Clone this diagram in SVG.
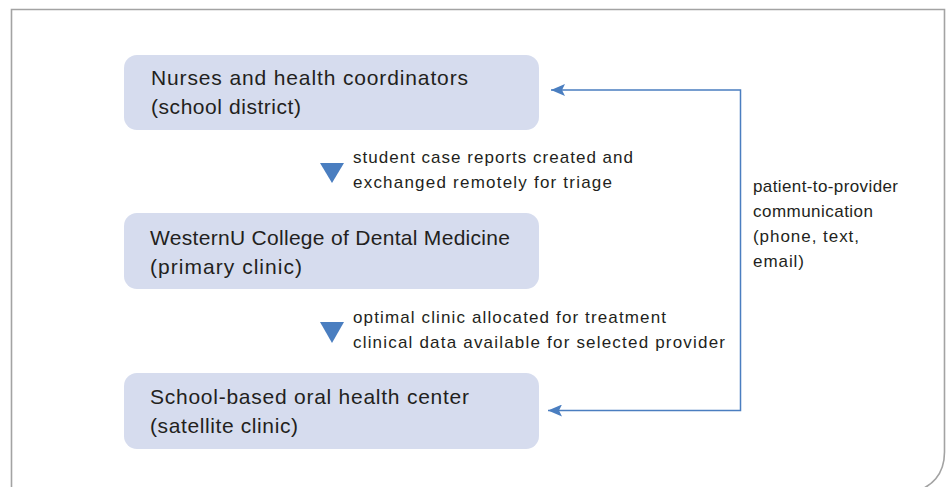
<svg xmlns="http://www.w3.org/2000/svg" width="948" height="487" viewBox="0 0 948 487">
  <defs>
    <marker id="arrowhead" viewBox="0 0 14 12" refX="14" refY="6" markerWidth="14" markerHeight="12" markerUnits="userSpaceOnUse" orient="auto-start-reverse">
      <path d="M14,6 L0,0 L3,6 L0,12 Z" fill="#4a7ec0"/>
    </marker>
    <style>
      .frame { fill: #ffffff; stroke: #a3a3a3; stroke-width: 1.6; }
      .box { fill: #d6dcee; }
      .title { font-family: "Liberation Sans", Arial, sans-serif; font-size: 21px; fill: #231f20; }
      .note { font-family: "Liberation Sans", Arial, sans-serif; font-size: 17px; fill: #231f20; }
      .link { fill: none; stroke: #4a7ec0; stroke-width: 1.5; }
      .tri { fill: #4a7ec0; }
    </style>
  </defs>

  <rect width="948" height="487" fill="#ffffff"/>
  <!-- outer panel with rounded lower-right corner -->
  <path class="frame" d="M11.5,492 V9.5 H944.5 V452 C944.5,474 932,488 912,492"/>

  <g id="node-nurses">
    <rect class="box" x="124" y="55" width="415" height="75" rx="13"/>
    <text class="title" x="151" y="85" textLength="317" lengthAdjust="spacing">Nurses and health coordinators</text>
    <text class="title" x="151" y="114" textLength="150" lengthAdjust="spacing">(school district)</text>
  </g>

  <g id="node-westernu">
    <rect class="box" x="124" y="213" width="415" height="76" rx="13"/>
    <text class="title" x="150" y="245" textLength="360" lengthAdjust="spacing">WesternU College of Dental Medicine</text>
    <text class="title" x="150" y="274" textLength="152" lengthAdjust="spacing">(primary clinic)</text>
  </g>

  <g id="node-satellite">
    <rect class="box" x="124" y="373" width="415" height="76" rx="13"/>
    <text class="title" x="150" y="404" textLength="319" lengthAdjust="spacing">School-based oral health center</text>
    <text class="title" x="150" y="433" textLength="148" lengthAdjust="spacing">(satellite clinic)</text>
  </g>

  <g id="connectors">
    <!-- flow steps between the stacked boxes -->
    <polygon class="tri" points="320,163 344,163 332,183"/>
    <text class="note" x="353" y="163" textLength="280" lengthAdjust="spacing">student case reports created and</text>
    <text class="note" x="353" y="188" textLength="259" lengthAdjust="spacing">exchanged remotely for triage</text>

    <polygon class="tri" points="320,322 344,322 332,343"/>
    <text class="note" x="353" y="323" textLength="313" lengthAdjust="spacing">optimal clinic allocated for treatment</text>
    <text class="note" x="353" y="348" textLength="372" lengthAdjust="spacing">clinical data available for selected provider</text>

    <!-- feedback loop from satellite clinic back to the school district -->
    <path class="link" d="M551,90 H740.5 V410.5 H548" marker-start="url(#arrowhead)" marker-end="url(#arrowhead)"/>
    <text class="note" x="753" y="192" textLength="145" lengthAdjust="spacing">patient-to-provider</text>
    <text class="note" x="753" y="217" textLength="120" lengthAdjust="spacing">communication</text>
    <text class="note" x="753" y="242" textLength="106" lengthAdjust="spacing">(phone, text,</text>
    <text class="note" x="753" y="267" textLength="51" lengthAdjust="spacing">email)</text>
  </g>
</svg>
